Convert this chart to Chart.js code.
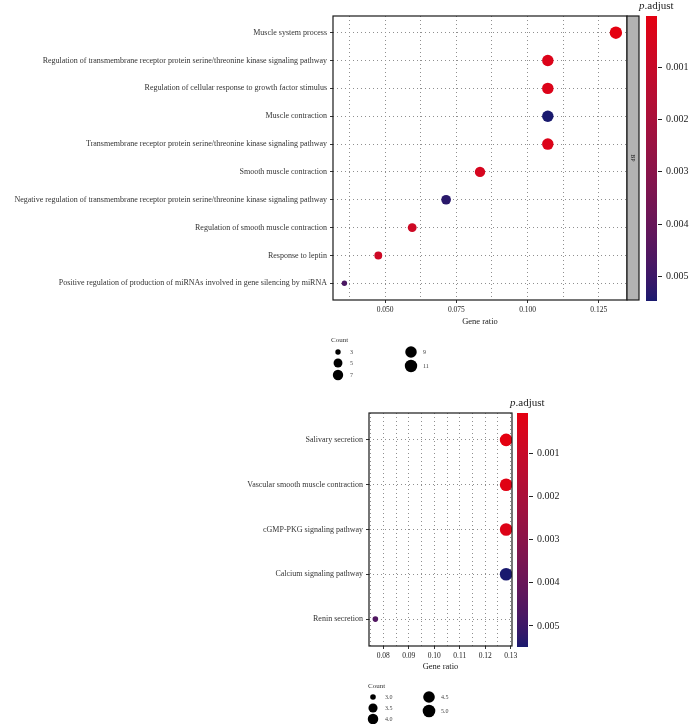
<!DOCTYPE html>
<html><head><meta charset="utf-8">
<script src="https://cdn.jsdelivr.net/npm/chart.js@4.4.1/dist/chart.umd.min.js"></script>
<style>
html,body{margin:0;padding:0;background:#fff;}
#wrap{position:relative;width:689px;height:724px;background:#fff;}
canvas{position:absolute;left:0;}
</style></head><body>
<div id="wrap">
<canvas id="c1" width="689" height="385" style="top:0px"></canvas>
<canvas id="c2" width="689" height="339" style="top:385px"></canvas>
</div>
<script>
// ---------- DATA ----------
const goTerms = [
  'Muscle system process',
  'Regulation of transmembrane receptor protein serine/threonine kinase signaling pathway',
  'Regulation of cellular response to growth factor stimulus',
  'Muscle contraction',
  'Transmembrane receptor protein serine/threonine kinase signaling pathway',
  'Smooth muscle contraction',
  'Negative regulation of transmembrane receptor protein serine/threonine kinase signaling pathway',
  'Regulation of smooth muscle contraction',
  'Response to leptin',
  'Positive regulation of production of miRNAs involved in gene silencing by miRNA'
];
const goRatio = [0.1310, 0.1071, 0.1071, 0.1071, 0.1071, 0.0833, 0.0714, 0.0595, 0.0476, 0.0357];
const goCount = [11, 9, 9, 9, 9, 7, 6, 5, 4, 3];
const goPadj  = [0.00003, 0.0003, 0.0003, 0.00548, 0.0003, 0.0005, 0.0053, 0.0008, 0.0008, 0.0047];
const goGridX = [0.0375, 0.05, 0.0625, 0.075, 0.0875, 0.1, 0.1125, 0.125];
const goLabelX = [0.050, 0.075, 0.100, 0.125];
const goBarTicks = [0.001, 0.002, 0.003, 0.004, 0.005];
const goLegendCounts = [3, 5, 7, 9, 11];

const keggTerms = [
  'Salivary secretion',
  'Vascular smooth muscle contraction',
  'cGMP-PKG signaling pathway',
  'Calcium signaling pathway',
  'Renin secretion'
];
const keggRatio = [0.1282, 0.1282, 0.1282, 0.1282, 0.0769];
const keggCount = [5, 5, 5, 5, 3];
const keggPadj  = [0.00007, 0.0002, 0.0003, 0.0055, 0.0046];
const keggGridX = [0.075, 0.08, 0.085, 0.09, 0.095, 0.10, 0.105, 0.11, 0.115, 0.12, 0.125, 0.13];
const keggLabelX = [0.08, 0.09, 0.10, 0.11, 0.12, 0.13];
const keggBarTicks = [0.001, 0.002, 0.003, 0.004, 0.005];
const keggLegendCounts = [3.0, 3.5, 4.0, 4.5, 5.0];

// ---------- helpers ----------
const F = "'Liberation Serif','DejaVu Serif',serif";
Chart.defaults.font.family = F;
const LOW = [228, 0, 16], HIGH = [25, 25, 110];
function toLab(c){
  const f=v=>{v/=255;return v<=0.04045?v/12.92:Math.pow((v+0.055)/1.055,2.4);};
  const R=f(c[0]),G=f(c[1]),B=f(c[2]);
  const X=(0.4124564*R+0.3575761*G+0.1804375*B)/0.95047,
        Y=(0.2126729*R+0.7151522*G+0.0721750*B),
        Z=(0.0193339*R+0.1191920*G+0.9503041*B)/1.08883;
  const h=t=>t>0.008856?Math.cbrt(t):7.787*t+16/116;
  const fx=h(X),fy=h(Y),fz=h(Z);
  return [116*fy-16,500*(fx-fy),200*(fy-fz)];
}
function fromLab(l){
  const fy=(l[0]+16)/116, fx=fy+l[1]/500, fz=fy-l[2]/200;
  const hi=t=>{const t3=t*t*t;return t3>0.008856?t3:(t-16/116)/7.787;};
  const X=hi(fx)*0.95047,Y=hi(fy),Z=hi(fz)*1.08883;
  const R=3.2404542*X-1.5371385*Y-0.4985314*Z,
        G=-0.9692660*X+1.8760108*Y+0.0415560*Z,
        B=0.0556434*X-0.2040259*Y+1.0572252*Z;
  const g=v=>{v=v<=0.0031308?12.92*v:1.055*Math.pow(v,1/2.4)-0.055;return Math.round(Math.min(1,Math.max(0,v))*255);};
  return [g(R),g(G),g(B)];
}
const labLow=toLab(LOW), labHigh=toLab(HIGH);
function colorAt(t){
  t=Math.max(0,Math.min(1,t));
  const l=[0,1,2].map(i=>labLow[i]+(labHigh[i]-labLow[i])*t);
  const c=fromLab(l);
  return `rgb(${c[0]},${c[1]},${c[2]})`;
}
function limits(arr){return [Math.min(...arr),Math.max(...arr)];}
function sizeR(c, lim, range){
  const t=(c-lim[0])/(lim[1]-lim[0]);
  return range[0]+Math.sqrt(Math.max(0,t))*(range[1]-range[0]);
}
function near(v, list){return list.some(x=>Math.abs(x-v)<1e-9);}

// ---------- plugin: border, strip, colorbar, size legend ----------
const panelPlugin = {
  id:'panel',
  afterDraw(chart, args, o){
    const ctx=chart.ctx, a=chart.chartArea;
    ctx.save();
    // panel border
    ctx.strokeStyle='#1a1a1a'; ctx.lineWidth=1.2;
    ctx.strokeRect(a.left, a.top, a.right-a.left, a.bottom-a.top);
    // facet strip
    if(o.strip){
      const sx=a.right, sw=o.stripWidth;
      ctx.fillStyle='#b3b3b3';
      ctx.fillRect(sx, a.top, sw, a.bottom-a.top);
      ctx.strokeRect(sx, a.top, sw, a.bottom-a.top);
      ctx.save();
      ctx.translate(sx+sw/2, (a.top+a.bottom)/2);
      ctx.rotate(Math.PI/2);
      ctx.fillStyle='#1a1a1a'; ctx.font=`6px ${F}`;
      ctx.textAlign='center'; ctx.textBaseline='middle';
      ctx.fillText(o.strip,0,0);
      ctx.restore();
    }
    // colour bar
    const bx=a.right+o.barGap, bw=o.barWidth, bt=a.top, bb=a.bottom+o.barExtra;
    const grad=ctx.createLinearGradient(0,bt,0,bb);
    for(let i=0;i<=50;i++){grad.addColorStop(i/50, colorAt(i/50));}
    ctx.fillStyle=grad; ctx.fillRect(bx,bt,bw,bb-bt);
    ctx.strokeStyle='#222'; ctx.lineWidth=1;
    ctx.fillStyle='#222'; ctx.font=`10px ${F}`; ctx.textAlign='left'; ctx.textBaseline='middle';
    o.barTicks.forEach(v=>{
      const y=bt+(v-o.lim[0])/(o.lim[1]-o.lim[0])*(bb-bt);
      ctx.beginPath(); ctx.moveTo(bx+bw+1,Math.round(y)+0.5); ctx.lineTo(bx+bw+5,Math.round(y)+0.5); ctx.stroke();
      ctx.fillText(v.toFixed(3), bx+bw+9, y+0.5);
    });
    // colour bar title
    ctx.textBaseline='alphabetic';
    ctx.font=`italic 11px ${F}`;
    const tx=bx-7, ty=a.top-7;
    ctx.fillText('p',tx,ty);
    const pw=ctx.measureText('p').width;
    ctx.font=`11px ${F}`;
    ctx.fillText('.adjust',tx+pw,ty);
    // size legend
    const L=o.legend;
    ctx.fillStyle='#333'; ctx.font=`7px ${F}`; ctx.textBaseline='middle';
    ctx.fillText('Count', a.left+L.titleDx, a.bottom+L.titleDy);
    L.counts.forEach((c,i)=>{
      const pos=L.pos[i];
      const r=sizeR(c,o.countLim,o.sizeRange);
      ctx.fillStyle='#000';
      ctx.beginPath(); ctx.arc(a.left+pos[0], a.bottom+pos[1], r, 0, Math.PI*2); ctx.fill();
      ctx.fillStyle='#444'; ctx.font=`6px ${F}`;
      ctx.fillText(L.fmt(c), a.left+pos[0]+L.labelDx, a.bottom+pos[1]);
    });
    ctx.restore();
  }
};

function buildChart(id, terms, ratio, count, padj, gridX, labelX, decimals, opt){
  const lim=limits(padj), cLim=limits(opt.legendCounts);
  const n=terms.length;
  return new Chart(document.getElementById(id), {
    type:'bubble',
    data:{datasets:[{
      data: ratio.map((x,i)=>({x:x, y:i, r:sizeR(count[i],cLim,opt.sizeRange)})),
      backgroundColor: padj.map(p=>colorAt((p-lim[0])/(lim[1]-lim[0]))),
      borderWidth:0, hoverBorderWidth:0
    }]},
    options:{
      responsive:false, animation:false, devicePixelRatio:1,
      events:[],
      layout:{padding:opt.padding},
      plugins:{legend:{display:false}, tooltip:{enabled:false},
        panel:{strip:opt.strip, stripWidth:12, barGap:opt.barGap, barWidth:opt.barWidth, barExtra:1,
               barTicks:opt.barTicks, lim:lim, countLim:cLim, sizeRange:opt.sizeRange,
               legend:opt.legend}},
      scales:{
        x:{type:'linear', min:opt.xMin, max:opt.xMax, bounds:'data',
           afterFit:s=>{s.height=opt.xAxisH;},
           afterBuildTicks:s=>{s.ticks=gridX.map(v=>({value:v}));},
           ticks:{autoSkip:false, maxRotation:0, padding:3, color:'#222',
                  font:{family:F,size:opt.xTickSize},
                  callback:v=>near(v,labelX)?Number(v).toFixed(decimals):''},
           grid:{color:'#8f8f8f', lineWidth:1, drawTicks:true, tickLength:3, tickWidth:1,
                 tickColor:c=>(c.tick && near(c.tick.value,labelX))?'#333':'rgba(0,0,0,0)'},
           border:{display:false, dash:[1,3]},
           title:{display:true, text:'Gene ratio', color:'#222', font:{family:F,size:8.5}, padding:0}},
        y:{type:'linear', reverse:true, min:-0.6, max:n-1+0.6, bounds:'data',
           afterFit:s=>{s.width=opt.yAxisW;},
           afterBuildTicks:s=>{s.ticks=terms.map((t,i)=>({value:i}));},
           ticks:{autoSkip:false, padding:3, color:'#333', font:{family:F,size:8},
                  callback:v=>terms[Math.round(v)]||''},
           grid:{color:'#8f8f8f', lineWidth:1, drawTicks:true, tickLength:3, tickWidth:1, tickColor:'#333'},
           border:{display:false, dash:[1,3]}}
      }
    },
    plugins:[panelPlugin]
  });
}

buildChart('c1', goTerms, goRatio, goCount, goPadj, goGridX, goLabelX, 3, {
  padding:{left:0, top:16, right:62, bottom:58},
  yAxisW:333, xAxisH:27, xMin:0.0317, xMax:0.1349, xTickSize:7.5,
  strip:'BP', barGap:19, barWidth:11, barTicks:goBarTicks,
  sizeRange:[2.7,6.2], legendCounts:goLegendCounts,
  legend:{counts:goLegendCounts, titleDx:-2, titleDy:40, labelDx:12, fmt:c=>String(c),
          pos:[[5,52],[5,63],[5,75],[78,52],[78,66]]}
});

buildChart('c2', keggTerms, keggRatio, keggCount, keggPadj, keggGridX, keggLabelX, 2, {
  padding:{left:0, top:28, right:177, bottom:52},
  yAxisW:369, xAxisH:26, xMin:0.0744, xMax:0.1305, xTickSize:7.5,
  strip:null, barGap:5, barWidth:11, barTicks:keggBarTicks,
  sizeRange:[2.8,6.3], legendCounts:keggLegendCounts,
  legend:{counts:keggLegendCounts, titleDx:-1, titleDy:40, labelDx:12, fmt:c=>c.toFixed(1),
          pos:[[4,51],[4,62],[4,73],[60,51],[60,65]]}
});
</script>
</body></html>
